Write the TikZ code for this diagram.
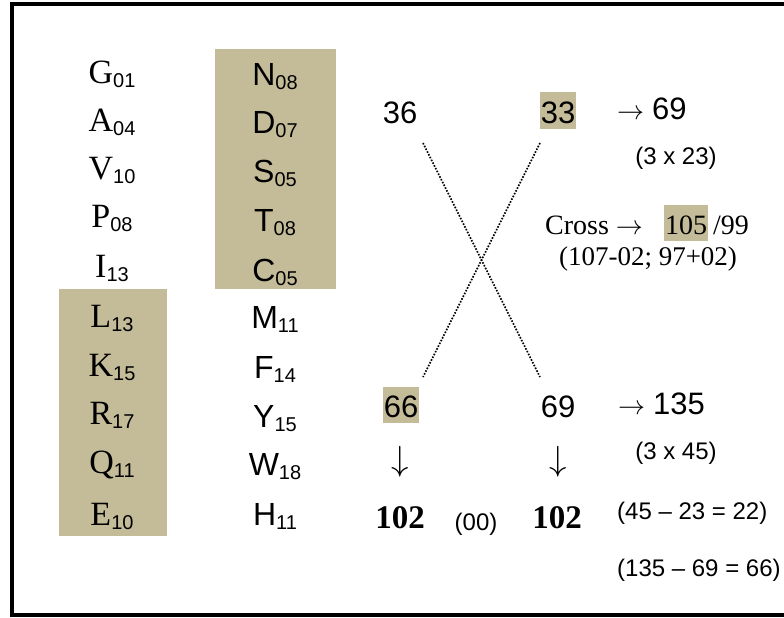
\documentclass[tikz,border=0pt]{standalone}
\usepackage{fontspec}
\setmainfont{Liberation Serif}
\newfontfamily\arial{Liberation Sans}
\definecolor{tanfill}{RGB}{196,188,153}
% residue index set as a lowered sans-serif subscript
\newcommand\subidx[1]{{\arial\fontsize{20}{20}\selectfont\raisebox{-4pt}{#1}}}
% thin arrows taken from the math font, sized to the text
\newcommand\rarr{\resizebox{27pt}{!}{$\rightarrow$}}
\newcommand\darr{\resizebox*{!}{31pt}{$\downarrow$}}

\tikzset{
  txt/.style={inner sep=0pt, anchor=base},
  serifletter/.style={txt, font=\fontsize{34}{38}\selectfont},
  sansletter/.style={txt, font=\arial\fontsize{32}{36}\selectfont},
  bignum/.style={txt, font=\arial\fontsize{31}{35}\selectfont},
  note/.style={txt, font=\arial\fontsize{24}{28}\selectfont},
  serifnote/.style={txt, font=\fontsize{28}{32}\selectfont},
  total/.style={txt, font=\bfseries\fontsize{33}{36}\selectfont},
  hl/.style={fill=tanfill},
  column/.style={fill=tanfill},
  crossline/.style={line width=1.6pt, dash pattern=on 1.6pt off 1.5pt},
  frame/.style={line width=4pt},
  downarrow/.style={inner sep=0pt},
}

\begin{document}
\begin{tikzpicture}[x=1pt, y=-1pt]
\useasboundingbox (0,0) rectangle (784,618);
\clip (0,0) rectangle (784,618);

% open frame, right side runs off the page
\draw[frame] (790,4) -- (12,4) -- (12,615) -- (790,615);

% shaded groups of residues
\fill[column] (215,49) rectangle (336,289);
\fill[column] (59,289) rectangle (167,536);

% left column (serif letters)
\node[serifletter] (g) at (112,83)  {G\subidx{01}};
\node[serifletter] (a) at (112,131) {A\subidx{04}};
\node[serifletter] (v) at (112,179) {V\subidx{10}};
\node[serifletter] (p) at (112,227) {P\subidx{08}};
\node[serifletter] (i) at (112,277) {I\subidx{13}};
\node[serifletter] (l) at (112,327) {L\subidx{13}};
\node[serifletter] (k) at (112,376) {K\subidx{15}};
\node[serifletter] (r) at (112,424) {R\subidx{17}};
\node[serifletter] (q) at (112,473) {Q\subidx{11}};
\node[serifletter] (e) at (112,525) {E\subidx{10}};

% right column (sans letters)
\node[sansletter] (n) at (275,85)  {N\subidx{08}};
\node[sansletter] (d) at (275,133) {D\subidx{07}};
\node[sansletter] (s) at (275,182) {S\subidx{05}};
\node[sansletter] (t) at (275,231) {T\subidx{08}};
\node[sansletter] (c) at (275,281) {C\subidx{05}};
\node[sansletter] (m) at (275,328) {M\subidx{11}};
\node[sansletter] (f) at (275,378) {F\subidx{14}};
\node[sansletter] (y) at (275,427) {Y\subidx{15}};
\node[sansletter] (w) at (275,475) {W\subidx{18}};
\node[sansletter] (h) at (275,525) {H\subidx{11}};

% top row of sums
\node[bignum] (n36) at (400,123) {36};
\node[bignum, hl, text height=31pt, text depth=6pt, minimum width=36pt] (n33) at (558,123) {33};
\node[serifnote, anchor=base west] (r69) at (617,119) {\rarr\hspace{8pt}{\arial\fontsize{31}{35}\selectfont 69}};
\node[note] (m1) at (676,164) {(3 x 23)};

% cross sums
\node[serifnote, anchor=base west] (cross) at (545,234) {Cross \rarr};
\node[serifnote, hl, text height=29pt, text depth=7pt, minimum width=44pt] (n105) at (686,234) {105};
\node[serifnote, anchor=base west] (n99) at (713,234) {/99};
\node[txt, font=\fontsize{27}{31}\selectfont] (split) at (648,265) {(107-02; 97+02)};

% bottom row of sums
\node[bignum, hl, text height=30pt, text depth=6pt, minimum width=36pt] (n66) at (401,417) {66};
\node[bignum] (n69) at (558,417) {69};
\node[serifnote, anchor=base west] (r135) at (618,414) {\rarr\hspace{8pt}{\arial\fontsize{31}{35}\selectfont 135}};
\node[note] (m2) at (676,459) {(3 x 45)};

\node[downarrow] (d1) at (400,462) {\darr};
\node[downarrow] (d2) at (558,462) {\darr};

\node[total] (t1) at (400,528) {102};
\node[note] (zero) at (476,530) {(00)};
\node[total] (t2) at (557,528) {102};

\node[note, anchor=base west] (diff1) at (617,519) {(45 – 23 = 22)};
\node[note, anchor=base west] (diff2) at (617,576) {(135 – 69 = 66)};

% dotted cross between the two rows
\coordinate (ul) at (423,143);
\coordinate (ur) at (540,143);
\coordinate (ll) at (423,377);
\coordinate (lr) at (540,377);
\draw[crossline] (ul) -- (lr);
\draw[crossline] (ur) -- (ll);
\end{tikzpicture}
\end{document}
